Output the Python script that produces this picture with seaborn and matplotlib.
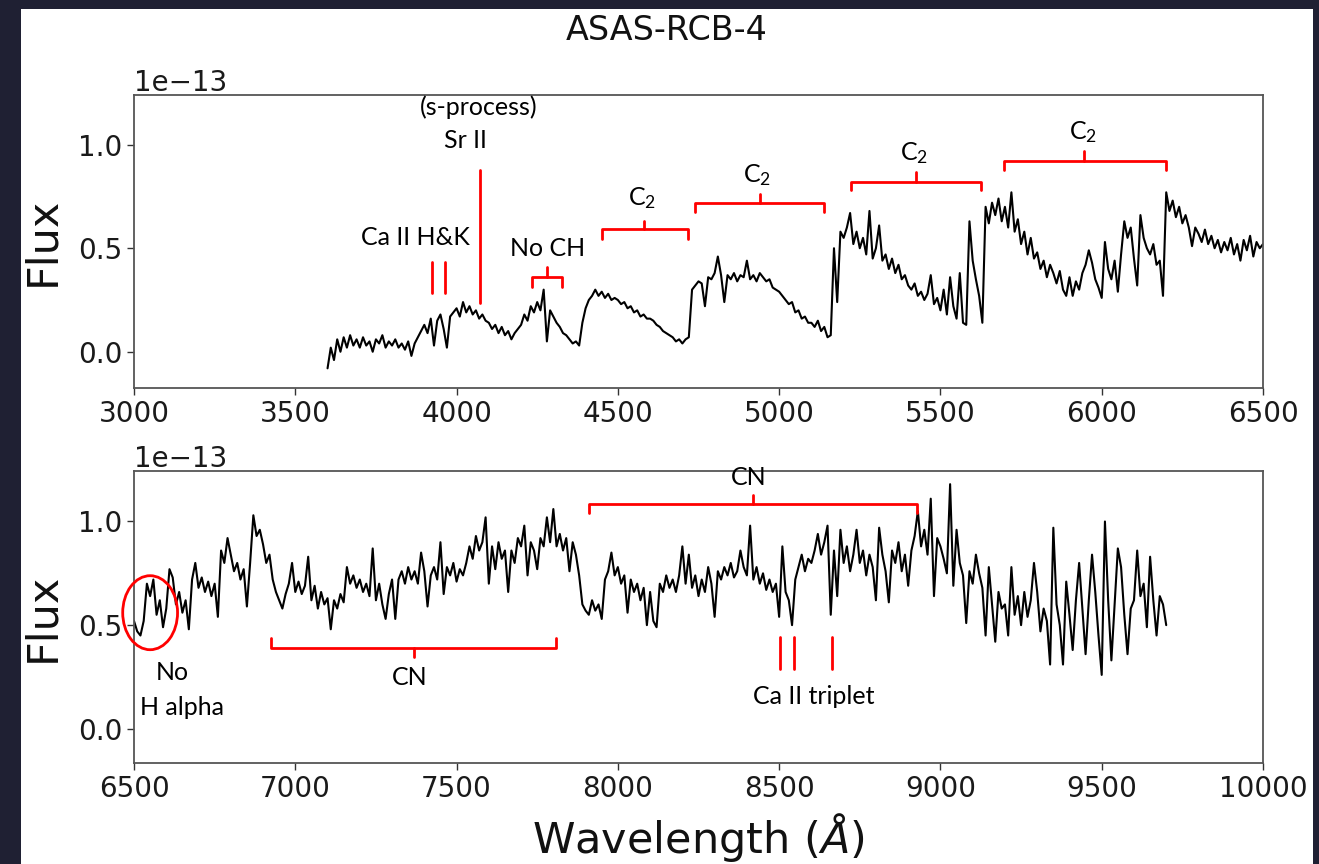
import numpy as np
import pandas as pd
import matplotlib
matplotlib.use("Agg")
import matplotlib.pyplot as plt
from matplotlib.patches import Ellipse, Rectangle
import seaborn as sns

# ---------------- data (flux in units of 1e-13) ----------------
SCALE = 1e-13

wave_blue = np.arange(3600, 6501, 10)
flux_blue = [
    -0.08, 0.02, -0.04, 0.06, 0.00, 0.07, 0.02, 0.08, 0.03, 0.06,
    0.02, 0.07, 0.03, 0.05, 0.00, 0.06, 0.04, 0.08, 0.02, 0.05,
    0.03, 0.06, 0.02, 0.04, 0.01, 0.05, -0.02, 0.04, 0.07, 0.10,
    0.13, 0.09, 0.16, 0.03, 0.15, 0.18, 0.11, 0.02, 0.17, 0.19,
    0.21, 0.17, 0.24, 0.19, 0.22, 0.18, 0.20, 0.16, 0.18, 0.15,
    0.14, 0.11, 0.13, 0.09, 0.12, 0.08, 0.10, 0.06, 0.09, 0.11,
    0.13, 0.18, 0.15, 0.22, 0.19, 0.24, 0.20, 0.30, 0.05, 0.20,
    0.17, 0.14, 0.12, 0.09, 0.08, 0.06, 0.04, 0.05, 0.03, 0.14,
    0.21, 0.25, 0.27, 0.30, 0.27, 0.29, 0.26, 0.28, 0.25, 0.26,
    0.25, 0.23, 0.24, 0.21, 0.22, 0.19, 0.20, 0.17, 0.18, 0.16,
    0.16, 0.15, 0.13, 0.12, 0.10, 0.09, 0.08, 0.07, 0.05, 0.06,
    0.04, 0.06, 0.07, 0.30, 0.32, 0.34, 0.33, 0.22, 0.36, 0.35,
    0.38, 0.46, 0.37, 0.24, 0.37, 0.35, 0.38, 0.34, 0.37, 0.36,
    0.44, 0.35, 0.37, 0.34, 0.38, 0.36, 0.34, 0.35, 0.31, 0.30,
    0.29, 0.27, 0.25, 0.23, 0.24, 0.19, 0.20, 0.16, 0.17, 0.14,
    0.14, 0.12, 0.15, 0.10, 0.12, 0.07, 0.08, 0.50, 0.24, 0.58,
    0.55, 0.60, 0.67, 0.52, 0.58, 0.50, 0.55, 0.47, 0.68, 0.45,
    0.50, 0.61, 0.44, 0.47, 0.40, 0.45, 0.38, 0.42, 0.35, 0.37,
    0.32, 0.30, 0.33, 0.27, 0.29, 0.25, 0.28, 0.37, 0.23, 0.26,
    0.20, 0.30, 0.18, 0.36, 0.22, 0.16, 0.38, 0.14, 0.13, 0.63,
    0.44, 0.35, 0.27, 0.14, 0.70, 0.62, 0.72, 0.66, 0.74, 0.63,
    0.70, 0.60, 0.77, 0.58, 0.64, 0.52, 0.58, 0.47, 0.55, 0.45,
    0.48, 0.40, 0.44, 0.36, 0.42, 0.38, 0.33, 0.39, 0.30, 0.27,
    0.36, 0.27, 0.34, 0.30, 0.38, 0.42, 0.49, 0.43, 0.35, 0.31,
    0.26, 0.53, 0.40, 0.35, 0.44, 0.29, 0.47, 0.63, 0.55, 0.60,
    0.45, 0.32, 0.66, 0.55, 0.50, 0.47, 0.52, 0.42, 0.44, 0.27,
    0.77, 0.68, 0.73, 0.65, 0.70, 0.62, 0.66, 0.60, 0.51, 0.60,
    0.57, 0.53, 0.59, 0.52, 0.56, 0.50, 0.54, 0.48, 0.53, 0.49,
    0.55, 0.47, 0.52, 0.44, 0.54, 0.49, 0.56, 0.46, 0.53, 0.50,
    0.52,
]

wave_red = np.arange(6500, 9701, 10)
flux_red = [
    0.52, 0.47, 0.45, 0.52, 0.70, 0.64, 0.72, 0.55, 0.62, 0.49,
    0.58, 0.77, 0.73, 0.60, 0.66, 0.56, 0.62, 0.48, 0.72, 0.80,
    0.68, 0.73, 0.66, 0.71, 0.64, 0.70, 0.54, 0.86, 0.80, 0.92,
    0.84, 0.76, 0.80, 0.72, 0.77, 0.59, 0.80, 1.03, 0.93, 0.96,
    0.89, 0.80, 0.84, 0.72, 0.66, 0.62, 0.58, 0.65, 0.70, 0.80,
    0.66, 0.71, 0.65, 0.69, 0.83, 0.62, 0.69, 0.58, 0.66, 0.60,
    0.63, 0.48, 0.62, 0.58, 0.65, 0.61, 0.78, 0.70, 0.74, 0.68,
    0.72, 0.66, 0.70, 0.64, 0.87, 0.62, 0.70, 0.60, 0.53, 0.65,
    0.72, 0.53, 0.72, 0.76, 0.70, 0.78, 0.72, 0.76, 0.70, 0.85,
    0.76, 0.59, 0.74, 0.78, 0.72, 0.90, 0.65, 0.78, 0.74, 0.80,
    0.71, 0.77, 0.74, 0.80, 0.88, 0.82, 0.93, 0.86, 0.90, 1.02,
    0.70, 0.88, 0.77, 0.90, 0.82, 0.86, 0.66, 0.86, 0.80, 0.92,
    0.88, 0.98, 0.74, 0.90, 0.86, 0.77, 0.92, 0.88, 1.02, 0.90,
    1.06, 0.88, 0.94, 0.86, 0.92, 0.76, 0.90, 0.84, 0.74, 0.60,
    0.57, 0.55, 0.62, 0.57, 0.60, 0.53, 0.72, 0.76, 0.85, 0.74,
    0.78, 0.70, 0.74, 0.56, 0.72, 0.66, 0.70, 0.62, 0.68, 0.50,
    0.66, 0.52, 0.49, 0.70, 0.66, 0.74, 0.68, 0.72, 0.66, 0.74,
    0.88, 0.70, 0.84, 0.68, 0.74, 0.64, 0.72, 0.66, 0.78, 0.70,
    0.54, 0.76, 0.72, 0.78, 0.74, 0.80, 0.73, 0.76, 0.86, 0.78,
    0.74, 0.98, 0.72, 0.78, 0.70, 0.75, 0.67, 0.72, 0.66, 0.70,
    0.54, 0.88, 0.66, 0.62, 0.50, 0.72, 0.78, 0.84, 0.76, 0.82,
    0.80, 0.86, 0.94, 0.84, 0.90, 0.98, 0.55, 0.86, 0.64, 0.96,
    0.80, 0.88, 0.76, 0.84, 0.96, 0.80, 0.86, 0.74, 0.84, 0.78,
    0.62, 0.97, 0.84, 0.76, 0.61, 0.86, 0.80, 0.90, 0.76, 0.84,
    0.69, 0.86, 0.93, 1.05, 0.88, 0.96, 0.84, 1.11, 0.64, 0.92,
    0.88, 0.82, 0.75, 1.18, 0.69, 0.96, 0.80, 0.74, 0.51, 0.76,
    0.70, 0.84, 0.75, 0.68, 0.45, 0.78, 0.60, 0.42, 0.66, 0.58,
    0.60, 0.45, 0.78, 0.55, 0.64, 0.50, 0.66, 0.54, 0.62, 0.80,
    0.66, 0.47, 0.58, 0.52, 0.31, 0.97, 0.60, 0.50, 0.31, 0.71,
    0.55, 0.38, 0.62, 0.80, 0.58, 0.36, 0.62, 0.84, 0.66, 0.45,
    0.26, 1.00, 0.62, 0.33, 0.60, 0.87, 0.78, 0.55, 0.36, 0.58,
    0.62, 0.86, 0.64, 0.70, 0.49, 0.83, 0.62, 0.45, 0.64, 0.60,
    0.50,
]

# annotation data: Angstrom and 1e-13 flux units
top_lines = [(3924, 0.285, 0.435), (3964, 0.285, 0.435), (4072, 0.237, 0.88)]
bot_lines = [(8503, 0.29, 0.445), (8546, 0.29, 0.445), (8665, 0.29, 0.445)]
# brackets: x0, x1, xc, y_horizontal, y_end, y_tick
top_brackets = [
    (4234, 4327, 4281, 0.363, 0.315, 0.41),
    (4451, 4717, 4581, 0.594, 0.545, 0.633),
    (4738, 5139, 4941, 0.72, 0.677, 0.763),
    (5224, 5626, 5425, 0.82, 0.78, 0.87),
    (5697, 6199, 5945, 0.92, 0.88, 0.97),
]
bot_brackets = [
    (6926, 7809, 7367, 0.39, 0.44, 0.345),
    (7909, 8928, 8418, 1.085, 1.04, 1.13),
]
top_labels = [
    ("Ca II H&K", 3872, 0.55),
    ("(s-process)", 4068, 1.18),
    ("Sr II", 4029, 1.02),
    ("No CH", 4281, 0.50),
    ("C$_2$", 4575, 0.74),
    ("C$_2$", 4932, 0.855),
    ("C$_2$", 5418, 0.96),
    ("C$_2$", 5942, 1.06),
]
bot_labels = [
    ("CN", 8407, 1.21),
    ("CN", 7354, 0.247),
    ("No", 6619, 0.27),
    ("H alpha", 6649, 0.103),
    ("Ca II triplet", 8607, 0.155),
]
halpha_ellipse = (6550, 0.56, 170, 0.357)

# ---------------- style ----------------
sns.set_style("ticks")
plt.rcParams["font.family"] = ["DejaVu Sans"]
plt.rcParams["mathtext.fontset"] = "custom"
plt.rcParams["mathtext.rm"] = "Lato"
plt.rcParams["mathtext.it"] = "Lato:italic"
plt.rcParams["mathtext.bf"] = "Lato:bold"

W, H = 1319, 864
fig = plt.figure(figsize=(W / 100, H / 100), dpi=100, facecolor="#1f2033")
fig.add_artist(Rectangle((21 / W, 0), (1313 - 21) / W, (H - 9) / H,
                         transform=fig.transFigure, facecolor="white",
                         edgecolor="none", zorder=-10))

ax1 = fig.add_axes([134 / W, 1 - 388 / H, 1129 / W, 293 / H])
ax2 = fig.add_axes([134 / W, 1 - 763 / H, 1129 / W, 292.3 / H])

df_b = pd.DataFrame({"wave": wave_blue, "flux": np.array(flux_blue) * SCALE})
df_r = pd.DataFrame({"wave": wave_red, "flux": np.array(flux_red) * SCALE})
sns.lineplot(data=df_b, x="wave", y="flux", ax=ax1, color="black", lw=1.5,
             estimator=None, sort=False)
sns.lineplot(data=df_r, x="wave", y="flux", ax=ax2, color="black", lw=1.5,
             estimator=None, sort=False)

RED = "#ff0000"
ANN_FONT = "Lato"
ANN_SIZE = 18


def draw_bracket(ax, b):
    x0, x1, xc, yh, ye, yt = b
    ax.plot([x0, x0, x1, x1], [ye * SCALE, yh * SCALE, yh * SCALE, ye * SCALE],
            color=RED, lw=2.0, solid_joinstyle="round", clip_on=False)
    ax.plot([xc, xc], [yh * SCALE, yt * SCALE], color=RED, lw=2.0, clip_on=False)


for ax, lines, brs, labels in [(ax1, top_lines, top_brackets, top_labels),
                               (ax2, bot_lines, bot_brackets, bot_labels)]:
    for x, y0, y1 in lines:
        ax.plot([x, x], [y0 * SCALE, y1 * SCALE], color=RED, lw=2.0)
    for b in brs:
        draw_bracket(ax, b)
    for txt, x, y in labels:
        ax.text(x, y * SCALE, txt, ha="center", va="center", fontsize=ANN_SIZE,
                family=ANN_FONT, math_fontfamily="custom", color="black")

ex, ey, ew, eh = halpha_ellipse
ax2.add_patch(Ellipse((ex, ey * SCALE), ew, eh * SCALE, facecolor="none",
                      edgecolor=RED, lw=2.0, clip_on=False, zorder=5))

ax1.set_xlim(3000, 6500)
ax2.set_xlim(6500, 10000)
ax1.set_ylim(-0.175 * SCALE, 1.24 * SCALE)
ax2.set_ylim(-0.165 * SCALE, 1.245 * SCALE)
ax1.set_xticks([3000, 3500, 4000, 4500, 5000, 5500, 6000, 6500])
ax2.set_xticks([6500, 7000, 7500, 8000, 8500, 9000, 9500, 10000])
for ax in (ax1, ax2):
    ax.set_yticks([0, 0.5 * SCALE, 1.0 * SCALE])
    ax.tick_params(labelsize=20, length=5, width=1.0, color="#333333",
                   labelcolor="#1a1a1a")
    ax.yaxis.get_offset_text().set_fontsize(20)
    ax.yaxis.get_offset_text().set_color("#1a1a1a")
    for s in ax.spines.values():
        s.set_visible(True)
        s.set_color("#555555")
        s.set_linewidth(1.3)
    ax.set_xlabel("")
    ax.set_ylabel("Flux", fontsize=31, color="#111111")
    ax.yaxis.set_label_coords(-0.063, 0.5)

ax2.set_xlabel(r"Wavelength ($\mathit{\AA}$)", fontsize=31,
               math_fontfamily="dejavusans", color="#111111")
ax2.xaxis.set_label_coords(0.5, -0.165)

fig.text(667 / W, 1 - 30 / H, "ASAS-RCB-4", ha="center", va="center",
         fontsize=24, color="#111111")

fig.savefig("out.png", dpi=100, facecolor=fig.get_facecolor())
